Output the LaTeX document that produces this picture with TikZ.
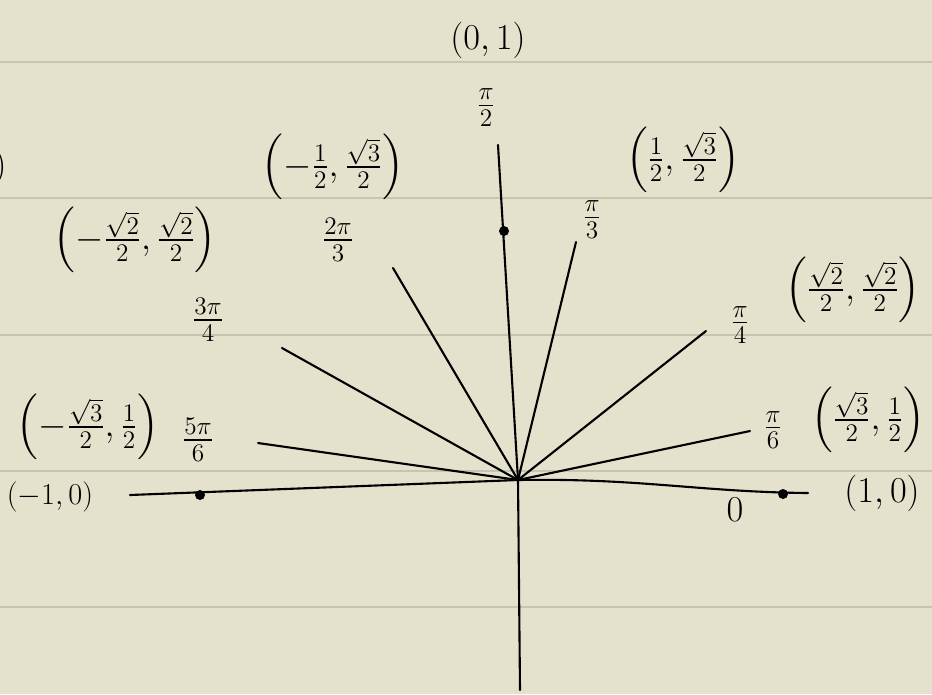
\documentclass[tikz,border=0pt]{standalone}
\usepackage{amsmath}
\definecolor{paper}{RGB}{228,225,204}
\definecolor{rule}{RGB}{200,196,176}
\tikzset{lbl/.style={font=\huge, inner sep=0pt},
         ray/.style={line width=1.2pt, line cap=round}}

\begin{document}
\begin{tikzpicture}[x=0.02cm,y=-0.02cm]
\def\W{932}
\def\H{694}

%paper
\fill[paper] (0,0) rectangle (\W,\H);
\useasboundingbox (0,0) rectangle (\W,\H);
\clip (0,0) rectangle (\W,\H);
\foreach \y in {62,198,335,471,607}
  \draw[rule, line width=1.5pt] (0,\y) -- (\W,\y);

%origin and ends of the rays
\coordinate (O) at (518,480);
\coordinate (e0) at (808,493);
\coordinate (e30) at (750,431);
\coordinate (e45) at (706,331);
\coordinate (e60) at (576,242);
\coordinate (e90) at (498,145);
\coordinate (e120) at (393,268);
\coordinate (e135) at (282,348);
\coordinate (e150) at (258,443);
\coordinate (e180) at (130,495);
\coordinate (e270) at (520,690);

%axes
\draw[ray] (e180) -- (O) .. controls (640,478) and (700,492) .. (e0);
\draw[ray] (e90) -- (O) -- (e270);
%rays
\foreach \a in {30,45,60,120,135,150}
  \draw[ray] (O) -- (e\a);

%points on the axes
\fill (783,494) circle (5) coordinate (p0);
\fill (504,231) circle (5) coordinate (p90);
\fill (200,495) circle (5) coordinate (p180);

%angles
\node[lbl] (a0) at (735,510) {$0$};
\node[lbl] (a30) at (773,430) {$\frac{\pi}{6}$};
\node[lbl] (a45) at (740,325) {$\frac{\pi}{4}$};
\node[lbl] (a60) at (592,220) {$\frac{\pi}{3}$};
\node[lbl] (a90) at (486,108) {$\frac{\pi}{2}$};
\node[lbl] (a120) at (338,240) {$\frac{2\pi}{3}$};
\node[lbl] (a135) at (208,320) {$\frac{3\pi}{4}$};
\node[lbl] (a150) at (198,440) {$\frac{5\pi}{6}$};

%coordinates on the circle
\node[lbl] (c0) at (882,493) {$(1,0)$};
\node[lbl] (c30) at (868,420) {$\left(\frac{\sqrt{3}}{2},\frac{1}{2}\right)$};
\node[lbl] (c45) at (853,290) {$\left(\frac{\sqrt{2}}{2},\frac{\sqrt{2}}{2}\right)$};
\node[lbl] (c60) at (683,160) {$\left(\frac{1}{2},\frac{\sqrt{3}}{2}\right)$};
\node[lbl] (c90) at (488,40) {$(0,1)$};
\node[lbl] (c120) at (333,167) {$\left(-\frac{1}{2},\frac{\sqrt{3}}{2}\right)$};
\node[lbl] (c135) at (135,240) {$\left(-\frac{\sqrt{2}}{2},\frac{\sqrt{2}}{2}\right)$};
\node[lbl] (c150) at (88,427) {$\left(-\frac{\sqrt{3}}{2},\frac{1}{2}\right)$};
\node[lbl, font=\LARGE] (c180) at (50,497) {$(-1,0)$};
\node[lbl, anchor=east] (cut) at (7,167) {$)$};
\end{tikzpicture}
\end{document}
